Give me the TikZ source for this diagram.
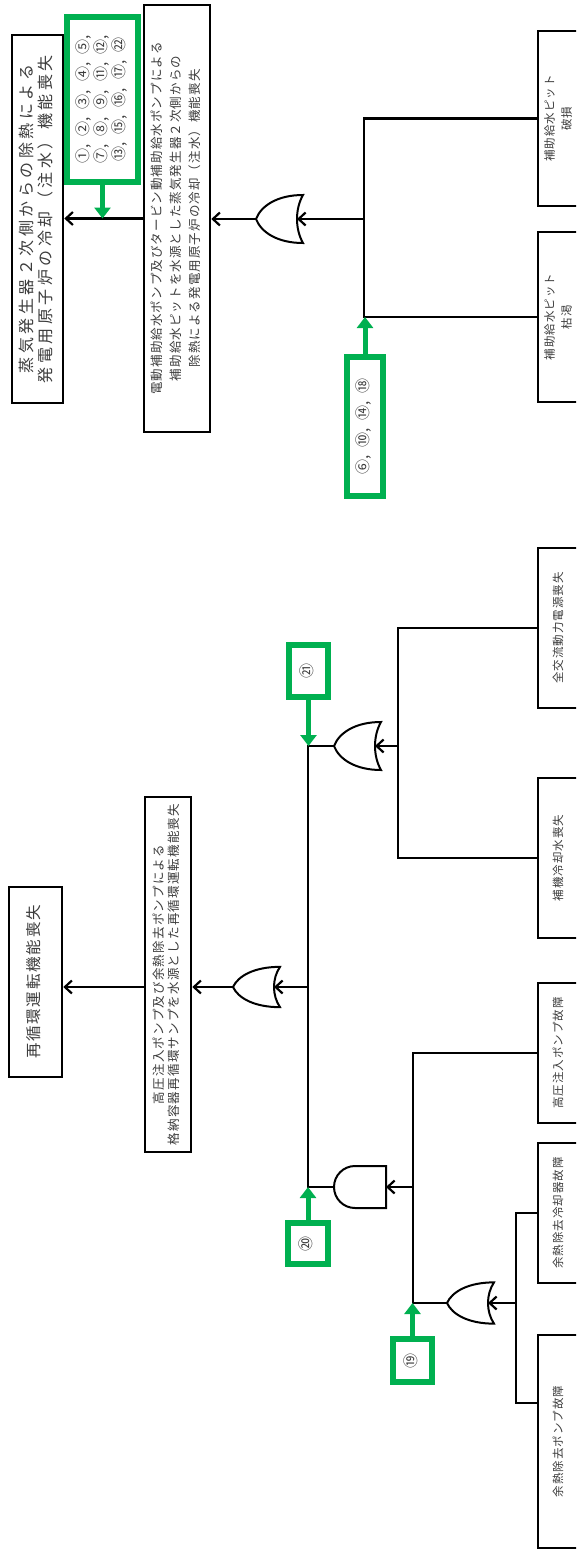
\documentclass[tikz,border=0pt]{standalone}
\usepackage{fontspec}
\setmainfont{Noto Sans CJK JP}
\usepackage{graphicx}
\usetikzlibrary{arrows.meta}
\definecolor{gr}{RGB}{0,176,80}
\definecolor{tx}{RGB}{60,60,60}
\newlength\chsp
\def\ls#1#2{\setlength\chsp{#1}\lsA#2\relax}
\def\lsA#1{\ifx\relax#1\else#1\hspace{\chsp}\expandafter\lsA\fi}
\newcommand\vtext[3]{\rotatebox{90}{\fontsize{#1}{#2}\selectfont\begin{tabular}{@{}c@{}}#3\end{tabular}}}
\newcommand\cs{,\hspace{8pt}}
\tikzset{
  box/.style={draw=black, line width=2.6pt, fill=white, inner sep=0pt, text=tx},
  gbox/.style={draw=gr, line width=5.5pt, fill=white, inner sep=0pt, text=tx},
  conn/.style={line width=2.2pt, draw=black},
  arr/.style={conn, -{Straight Barb[length=7pt,width=13pt]}},
  garr/.style={draw=gr, line width=5pt, -{Triangle[length=11pt,width=16pt]}},
  gate/.style={line width=2pt, draw=black, fill=white},
  orgate/.pic={
    \draw[gate] (47,-24) .. controls (21,-24) and (5,-13) .. (0,0)
      .. controls (5,13) and (21,24) .. (47,24)
      .. controls (39,10) and (39,-10) .. (47,-24) -- cycle;
    \coordinate (-out) at (0,0);
    \coordinate (-in) at (41,0);
  },
  andgate/.pic={
    \draw[gate] (52,-21) -- (21,-21) arc[start angle=90,end angle=270,radius=21pt] -- (52,21) -- cycle;
    \coordinate (-out) at (0,0);
    \coordinate (-in) at (52,0);
  }
}
\begin{document}
\begin{tikzpicture}[x=1pt,y=-1pt]
\useasboundingbox (0,0) rectangle (576,1553);
\clip (0,0) rectangle (576,1553);
\fill[white] (0,0) rectangle (576,1553);

% ---------- upper tree ----------
\node[box, minimum width=51pt, minimum height=368pt] (top1) at (37.5,219)
  {\vtext{16}{16.5}{\ls{3.5pt}{蒸気発生器２次側からの除熱による}\\\ls{3.5pt}{発電用原子炉の冷却（注水）機能喪失}}};
\node[box, minimum width=66pt, minimum height=427pt] (b2) at (177,218.5)
  {\vtext{12.5}{19}{\ls{1.1pt}{電動補助給水ポンプ及びタービン動補助給水ポンプによる}\\\ls{1.1pt}{補助給水ピットを水源とした蒸気発生器２次側からの}\\\ls{1.1pt}{除熱による発電用原子炉の冷却（注水）機能喪失}}};
\node[box, minimum width=42pt, minimum height=175pt] (b3) at (559,118.5)
  {\vtext{11.5}{17}{\ls{1pt}{補助給水ピット}\\\ls{1pt}{破損}}};
\node[box, minimum width=42pt, minimum height=170pt] (b4) at (559,317)
  {\vtext{11.5}{17}{\ls{1pt}{補助給水ピット}\\\ls{1pt}{枯渇}}};
\node[gbox, minimum width=71pt, minimum height=165pt] (g1) at (102.5,99.5)
  {\vtext{15}{16.5}{①\cs②\cs③\cs④\cs⑤,\\⑦\cs⑧\cs⑨\cs⑪\cs⑫,\\⑬\cs⑮\cs⑯\cs⑰\cs㉒}};
\node[gbox, minimum width=36pt, minimum height=139pt] (g2) at (365,426.5)
  {\vtext{15}{16.5}{⑥\cs⑩\cs⑭\cs⑱}};

\pic (or1) at (256,219) {orgate};
\coordinate (j1) at (364,219);

\draw[arr] (b2.west) -- (b2.west -| top1.east);
\draw[arr] (or1-out) -- (or1-out -| b2.east);
\draw[arr] (j1) -- (or1-in);
\draw[conn] (b3.west) -| (j1) |- (b4.west);
\draw[garr] (g1.south) -- (g1.south |- b2.west);
\draw[garr] (g2.north) -- (g2.north |- b4.west);

% ---------- lower tree ----------
\node[box, minimum width=53pt, minimum height=190pt] (b5) at (35.5,982)
  {\vtext{15.5}{17}{\ls{1.8pt}{再循環運転機能喪失}}};
\node[box, minimum width=46pt, minimum height=355pt] (b6) at (168,974.5)
  {\vtext{12.5}{14.5}{\ls{1.2pt}{高圧注入ポンプ及び余熱除去ポンプによる}\\\ls{1.2pt}{格納容器再循環サンプを水源とした再循環運転機能喪失}}};
\node[box, minimum width=42pt, minimum height=160pt] (b7) at (559,628)
  {\vtext{11.5}{17}{\ls{1pt}{全交流動力電源喪失}}};
\node[box, minimum width=42pt, minimum height=160pt] (b8) at (559,858)
  {\vtext{11.5}{17}{\ls{1pt}{補機冷却水喪失}}};
\node[box, minimum width=42pt, minimum height=140pt] (b9) at (559,1053)
  {\vtext{11.5}{17}{\ls{1pt}{高圧注入ポンプ故障}}};
\node[box, minimum width=42pt, minimum height=140pt] (b10) at (559,1213)
  {\vtext{11.5}{17}{\ls{1pt}{余熱除去冷却器故障}}};
\node[box, minimum width=42pt, minimum height=213pt] (b11) at (559,1441.5)
  {\vtext{11.5}{17}{\ls{1pt}{余熱除去ポンプ故障}}};
\coordinate (b11in) at (538,1403);

\node[gbox, minimum width=39pt, minimum height=52pt] (g21) at (308.5,671)
  {\vtext{15}{16}{㉑}};
\node[gbox, minimum width=40pt, minimum height=41pt] (g20) at (308,1243.5)
  {\vtext{15}{16}{⑳}};
\node[gbox, minimum width=39pt, minimum height=43pt] (g19) at (412.5,1360.5)
  {\vtext{15}{16}{⑲}};

\pic[yscale=0.84] (or2) at (233,987) {orgate};
\pic (or21) at (334,746) {orgate};
\pic (and1) at (334,1187) {andgate};
\pic[yscale=0.86] (or19) at (447,1303) {orgate};

\coordinate (j2) at (308,987);
\coordinate (j21) at (398,746);
\coordinate (jand) at (413,1187);
\coordinate (j19) at (516,1303);

\draw[arr] (b6.west |- or2-out) -- (b5.east |- or2-out);
\draw[arr] (or2-out) -- (or2-out -| b6.east);
\draw[arr] (j2) -- (or2-in);
\draw[conn] (or21-out) -- (or21-out -| j2) -- (and1-out -| j2) -- (and1-out);
\draw[arr] (j21) -- (or21-in);
\draw[conn] (b7.west) -| (j21) |- (b8.west);
\draw[arr] (jand) -- (and1-in);
\draw[conn] (b9.west) -| (jand) |- (or19-out);
\draw[arr] (j19) -- (or19-in);
\draw[conn] (b10.west) -| (j19) |- (b11in);

\draw[garr] (g21.south) -- (g21.south |- or21-out);
\draw[garr] (g20.north) -- (g20.north |- and1-out);
\draw[garr] (g19.north) -- (g19.north |- or19-out);
\end{tikzpicture}
\end{document}
